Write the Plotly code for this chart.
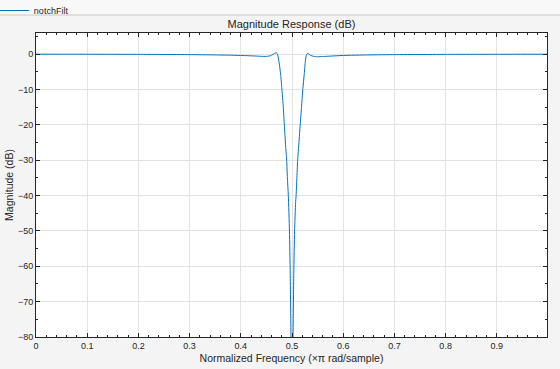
import plotly.graph_objects as go

freq = [0, 0.05, 0.1, 0.15, 0.2, 0.25, 0.3, 0.35, 0.38, 0.41, 0.43, 0.443, 0.452,
        0.458, 0.463, 0.466, 0.469, 0.471, 0.473, 0.475, 0.478, 0.480, 0.483, 0.485,
        0.4875, 0.4896, 0.491, 0.4928, 0.495, 0.4965, 0.498, 0.5,
        0.502, 0.5035, 0.505, 0.507, 0.508, 0.511, 0.5135, 0.516, 0.5185, 0.521,
        0.524, 0.526, 0.528, 0.530, 0.532, 0.536, 0.542, 0.55, 0.56, 0.58, 0.6,
        0.65, 0.7, 0.75, 0.8, 0.9, 0.998]
mag_db = [0, 0, -0.01, -0.02, -0.04, -0.07, -0.12, -0.2, -0.28, -0.4, -0.52, -0.62, -0.6,
          -0.4, -0.05, 0.25, 0.4, 0.2, -0.8, -2.5, -6, -9.5, -15, -20,
          -26, -30, -35, -40, -50, -62, -80, -120,
          -80, -62, -50, -42, -40, -30, -25, -20, -15, -10,
          -5.5, -2, -0.3, 0.2, 0.15, -0.3, -0.6, -0.72, -0.65, -0.5, -0.35,
          -0.2, -0.12, -0.08, -0.05, -0.02, 0]

W, H = 560, 369
L, R, T, B = 36, 13, 33, 32
pw, ph = W - L - R, H - T - B
FONT = "Liberation Sans, Arial"

fig = go.Figure()
fig.add_trace(go.Scatter(x=freq, y=mag_db, mode="lines", name="notchFilt",
                         line=dict(color="#0072BD", width=1, shape="spline", smoothing=0.5)))

axis_common = dict(
    showline=True, linecolor="#262626", linewidth=1, mirror="ticks",
    ticks="inside", ticklen=4, tickcolor="#262626", automargin=False,
    showgrid=True, gridcolor="#e3e3e3", gridwidth=1, zeroline=False,
    tickfont=dict(size=9, color="#262626", family=FONT),
)

fig.update_xaxes(range=[0, 0.998], dtick=0.1, tick0=0,
                 title=dict(text="Normalized Frequency (×π rad/sample)",
                            font=dict(size=10.5, color="#262626", family=FONT),
                            standoff=4),
                 minor=dict(dtick=0.02, ticks="inside", ticklen=2, tickcolor="#262626", showgrid=False),
                 **axis_common)
fig.update_yaxes(range=[-80, 6], dtick=10, tick0=0,
                 title=dict(text="Magnitude (dB)",
                            font=dict(size=10.5, color="#262626", family=FONT),
                            standoff=2),
                 minor=dict(dtick=5, ticks="inside", ticklen=2, tickcolor="#262626", showgrid=False),
                 **axis_common)

fig.add_shape(type="rect", xref="paper", yref="paper",
              x0=-L / pw, x1=1 + R / pw, y0=1 + (T - 15) / ph, y1=1 + T / ph,
              fillcolor="#f8f8f8", line=dict(width=0), layer="below")
fig.add_shape(type="line", xref="paper", yref="paper",
              x0=-L / pw, x1=1 + R / pw, y0=1 + (T - 15) / ph, y1=1 + (T - 15) / ph,
              line=dict(color="#c8c8c8", width=1))

fig.update_layout(
    width=W, height=H,
    margin=dict(l=L, r=R, t=T, b=B, autoexpand=False),
    paper_bgcolor="#f4f4f4", plot_bgcolor="white",
    font=dict(family=FONT, color="#262626"),
    title=dict(text="Magnitude Response (dB)", x=(L + pw / 2) / W, xanchor="center",
               y=1 - 24 / H, yanchor="middle",
               font=dict(size=11, color="#262626", family=FONT)),
    showlegend=True,
    legend=dict(x=-L / pw - 0.012, y=1 + (T + 4) / ph, xanchor="left", yanchor="top",
                bgcolor="rgba(0,0,0,0)", itemwidth=30,
                font=dict(size=9, color="#262626", family=FONT),
                tracegroupgap=0),
)

fig.write_html("out.html", config={"displayModeBar": False},
               post_script="document.body.style.margin='0';document.body.style.padding='0';")
